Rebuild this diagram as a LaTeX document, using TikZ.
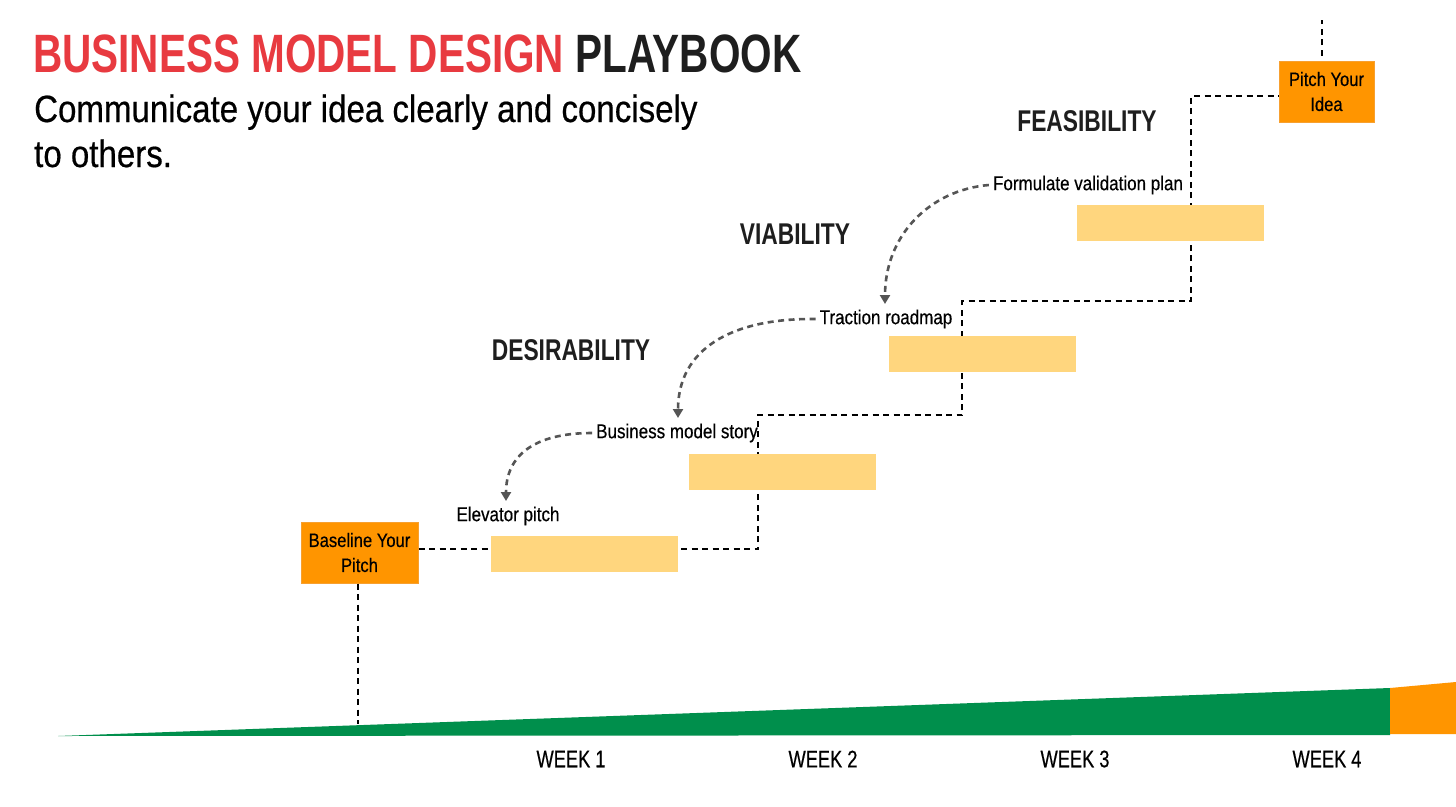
\documentclass[tikz,border=0pt]{standalone}
\usepackage{fontspec}
\setmainfont{Liberation Sans}[FakeStretch=0.85]
\newfontfamily\regfont{Liberation Sans}[FakeStretch=0.85, FakeBold=0.4]
\newfontfamily\subfont{Liberation Sans}[FakeStretch=0.87, FakeBold=0.5]
\newfontfamily\upfont{Liberation Sans}[FakeStretch=0.76]
\newfontfamily\weekfont{Liberation Sans}[FakeStretch=0.76, FakeBold=0.4]
\newfontfamily\titlefont{Liberation Sans}[FakeStretch=0.75]
\usetikzlibrary{arrows.meta}
\definecolor{tred}{HTML}{E83A40}
\definecolor{tblack}{HTML}{1E1E1E}
\definecolor{borange}{HTML}{FF9500}
\definecolor{bordor}{HTML}{F7A030}
\definecolor{byellow}{HTML}{FFD67E}
\definecolor{bgreen}{HTML}{008F4C}
\definecolor{agray}{HTML}{555555}
\tikzset{
  x=1pt, y=-1pt,
  mbox/.style={fill=borange, draw=bordor, line width=1pt, minimum width=117pt, minimum height=61pt, inner sep=0pt, align=center, font=\regfont\fontsize{19.5}{25}\selectfont},
  bar/.style={fill=byellow, draw=none, minimum width=187pt, minimum height=36pt, inner sep=0pt},
  conn/.style={draw=black, line width=2.6pt, dash pattern=on 6pt off 4.5pt},
  garrow/.style={draw=agray, line width=2.6pt, dash pattern=on 6pt off 4.5pt, -{Triangle[width=10pt,length=9pt,fill=agray]}},
  stage/.style={font=\upfont\bfseries\fontsize{30}{34}\selectfont, text=tblack, inner sep=0pt},
  lab/.style={font=\regfont\fontsize{20}{24}\selectfont, text=black, inner sep=1pt},
  week/.style={font=\weekfont\fontsize{24}{28}\selectfont, text=black, inner sep=0pt}
}
\begin{document}
\begin{tikzpicture}
\useasboundingbox (0,0) rectangle (1456,806);
\fill[white] (0,0) rectangle (1456,806);
% title
\node[anchor=base west, inner sep=0pt, font=\titlefont\bfseries\fontsize{54}{60}\selectfont] (title) at (33,72) {\textcolor{tred}{BUSINESS MODEL DESIGN} \textcolor{tblack}{PLAYBOOK}};
\node[anchor=base west, inner sep=0pt, align=left, font=\subfont\fontsize{38}{45}\selectfont] (sub) at (34,167) {Communicate your idea clearly and concisely\\to others.};
% ground wedge
\fill[bgreen] (58,736) -- (1390,688) -- (1390,735) -- cycle;
\fill[borange] (1390,688) -- (1456,682) -- (1456,734) -- (1390,734) -- cycle;
% milestone boxes
\node[mbox] (base) at (359.5,552.5) {Baseline Your\\Pitch};
\node[mbox, minimum width=95pt] (pitch) at (1326.5,91.5) {Pitch Your\\Idea};
% connector path
\coordinate (c1) at (758,549);
\coordinate (c2) at (758,415);
\coordinate (c3) at (962,415);
\coordinate (c4) at (962,301);
\coordinate (c5) at (1191,301);
\coordinate (c6) at (1191,96);
\coordinate (top) at (1322,20);
\coordinate (gnd) at (358,724);
\draw[conn] (base.east |- c1) -- (c1) -- (c2) -- (c3) -- (c4) -- (c5) -- (c6) -- (c6 -| pitch.west);
\draw[conn] ([yshift=5pt]pitch.north -| top) -- (top);
\draw[conn] (base.south -| gnd) -- (gnd);
% bars
\node[bar] (b1) at (584.5,554) {};
\node[bar] (b2) at (782,472) {};
\node[bar] (b3) at (982,354) {};
\node[bar] (b4) at (1170,223) {};
% stage names
\node[stage] (feas) at (1087,121) {FEASIBILITY};
\node[stage] (viab) at (795,234) {VIABILITY};
\node[stage] (desi) at (571,350) {DESIRABILITY};
% activity labels
\node[lab] (fv) at (1088,185) {Formulate validation plan};
\node[lab] (tr) at (886,319) {Traction roadmap};
\node[lab] (bms) at (677,433) {Business model story};
\node[lab] (ep) at (508,516) {Elevator pitch};
% curved arrows
\draw[garrow] ([xshift=-3pt]fv.west) .. controls (930,190) and (885,235) .. (885,304);
\draw[garrow] ([xshift=-3pt]tr.west) .. controls (730,318) and (678,350) .. (678,418);
\draw[garrow] ([xshift=-3pt]bms.west) .. controls (535,433) and (506,455) .. (506,501);
% weeks
\node[week] (w1) at (571,759) {WEEK 1};
\node[week] (w2) at (823,759) {WEEK 2};
\node[week] (w3) at (1075,759) {WEEK 3};
\node[week] (w4) at (1327,759) {WEEK 4};
\end{tikzpicture}
\end{document}
